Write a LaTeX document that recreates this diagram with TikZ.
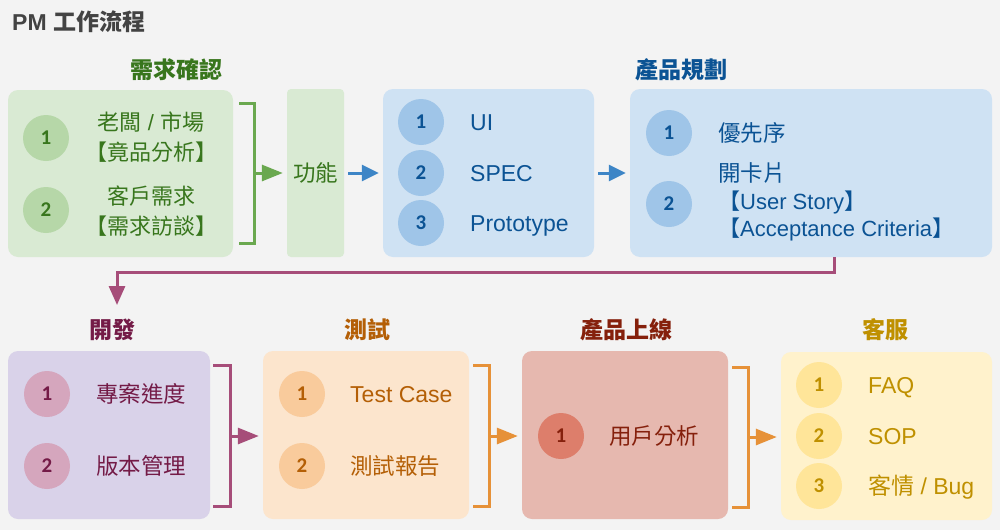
\documentclass[tikz,border=0pt]{standalone}
\usepackage{fontspec}
\setmainfont{Liberation Sans}
\newfontfamily\cjk{Noto Sans CJK TC}
\newfontfamily\numfont{Carlito}[BoldFont={* Bold}]
\usetikzlibrary{arrows.meta,calc}
\definecolor{bg}{HTML}{F3F3F3}
\definecolor{titlec}{HTML}{434343}
\definecolor{gtxt}{HTML}{38761D}\definecolor{gcir}{HTML}{B6D7A8}\definecolor{gbox}{HTML}{D9EAD3}\definecolor{gline}{HTML}{6AA84F}
\definecolor{btxt}{HTML}{0B5394}\definecolor{bcir}{HTML}{9FC5E8}\definecolor{bbox}{HTML}{CFE2F3}\definecolor{bline}{HTML}{3D85C6}
\definecolor{ptxt}{HTML}{741B47}\definecolor{pcir}{HTML}{D5A6BD}\definecolor{pbox}{HTML}{D9D2E9}\definecolor{pline}{HTML}{A64D79}
\definecolor{otxt}{HTML}{B45F06}\definecolor{ocir}{HTML}{F9CB9C}\definecolor{obox}{HTML}{FCE5CD}\definecolor{oline}{HTML}{E69138}
\definecolor{rtxt}{HTML}{85200C}\definecolor{rcir}{HTML}{DD7E6B}\definecolor{rbox}{HTML}{E6B8AF}
\definecolor{ytxt}{HTML}{BF9000}\definecolor{ycir}{HTML}{FFE599}\definecolor{ybox}{HTML}{FFF2CC}
\begin{document}
\begin{tikzpicture}[x=1pt,y=-1pt,
  panel/.style={rounded corners=10pt, inner sep=0pt, draw=none},
  num/.style={circle, minimum size=46pt, inner sep=0pt, font=\numfont\bfseries\fontsize{21}{24}\selectfont},
  item/.style={anchor=west, inner sep=0pt, text height=20pt, text depth=4pt, font=\fontsize{23}{27}\selectfont},
  citem/.style={item, font=\cjk\fontsize{22.5}{27}\selectfont},
  head/.style={inner sep=0pt, font=\cjk\bfseries\fontsize{23}{27}\selectfont},
  brk/.style={line width=3pt},
  arr/.style={line width=3pt, -{Triangle[length=21pt,width=16pt]}, shorten >=4pt},
  barr/.style={line width=3pt, bline, -{Triangle[length=17pt,width=16pt]}, shorten <=4pt, shorten >=4pt}
]
\fill[bg] (0,0) rectangle (1000,530);
\useasboundingbox (0,0) rectangle (1000,530);

\node[anchor=west, inner sep=0pt, text=titlec, font=\bfseries\fontsize{23}{27}\selectfont] (title) at (12,22) {PM {\cjk 工作流程}};

% ---------- row 1 ----------
\node[head, text=gtxt] (h1) at (176,70) {需求確認};
\node[panel, fill=gbox, minimum width=225pt, minimum height=167pt] (req) at (120.5,173.5) {};
\node[num, fill=gcir, text=gtxt] (r1) at (46,138) {1};
\node[num, fill=gcir, text=gtxt] (r2) at (46,210) {2};
\node[inner sep=0pt, align=center, text=gtxt, font=\fontsize{22}{29.5}\selectfont] (rt1) at (151,137) {{\cjk 老闆} / {\cjk 市場}\\{\cjk 【竟品分析】}};
\node[inner sep=0pt, align=center, text=gtxt, font=\cjk\fontsize{22}{29.5}\selectfont] (rt2) at (151,211) {客戶需求\\【需求訪談】};

\draw[brk, gline] (239,103) -- (254,103) -- (254,243) -- (239,243);
\coordinate (gmid) at (254,173);

\node[rounded corners=4pt, fill=gbox, minimum width=57pt, minimum height=168pt, inner sep=0pt] (func) at (315.5,173) {};
\node[inner sep=0pt, text=gtxt, font=\cjk\fontsize{22.5}{27}\selectfont] (funct) at (func) {功能};
\draw[arr, gline] (gmid) -- (gmid -| func.west);

\node[panel, fill=bbox, minimum width=211pt, minimum height=168pt] (des) at (488.5,173) {};
\node[num, fill=bcir, text=btxt] (d1) at (421,122) {1};
\node[num, fill=bcir, text=btxt] (d2) at (421,173) {2};
\node[num, fill=bcir, text=btxt] (d3) at (421,223) {3};
\node[item, text=btxt] (dt1) at (470,122) {UI};
\node[item, text=btxt] (dt2) at (470,173) {SPEC};
\node[item, text=btxt] (dt3) at (470,223) {Prototype};
\draw[barr] (func.east) -- (des.west);

\node[head, text=btxt] (h2) at (681,70) {產品規劃};
\node[panel, fill=bbox, minimum width=362pt, minimum height=168pt] (plan) at (811,173) {};
\node[num, fill=bcir, text=btxt] (p1) at (669,133) {1};
\node[num, fill=bcir, text=btxt] (p2) at (669,204) {2};
\node[citem, text=btxt] (pt1) at (718,133) {優先序};
\node[citem, text=btxt] (pt2) at (718,173) {開卡片};
\node[item, text=btxt, font=\fontsize{22}{26}\selectfont] (pt3) at (718,201) {{\cjk 【}User Story{\cjk 】}};
\node[item, text=btxt, font=\fontsize{22}{26}\selectfont] (pt4) at (718,228) {{\cjk 【}Acceptance Criteria{\cjk 】}};
\draw[barr] (des.east) -- (plan.west);

% connector down to row 2
\coordinate (pdown) at (117,305);
\draw[line width=3pt, pline, -{Triangle[length=19pt,width=16pt]}] ([xshift=23pt]plan.south) -- ++(0,15) -| (pdown);

% ---------- row 2 ----------
\node[head, text=ptxt] (h3) at (112,330) {開發};
\node[panel, fill=pbox, minimum width=202pt, minimum height=168pt] (dev) at (109,435) {};
\node[num, fill=pcir, text=ptxt] (v1) at (47,394) {1};
\node[num, fill=pcir, text=ptxt] (v2) at (47,466) {2};
\node[citem, text=ptxt] (vt1) at (96,394) {專案進度};
\node[citem, text=ptxt] (vt2) at (96,466) {版本管理};
\draw[brk, pline] (213,365) -- (230,365) -- (230,506) -- (213,506);
\coordinate (pmid) at (230,436);

\node[head, text=otxt] (h4) at (367,330) {測試};
\node[panel, fill=obox, minimum width=206pt, minimum height=168pt] (test) at (366,435) {};
\node[num, fill=ocir, text=otxt] (t1) at (302,394) {1};
\node[num, fill=ocir, text=otxt] (t2) at (302,466) {2};
\node[item, text=otxt] (tt1) at (350,394) {Test Case};
\node[citem, text=otxt] (tt2) at (350,466) {測試報告};
\draw[arr, pline] (pmid) -- (pmid -| test.west);
\draw[brk, oline] (473,365) -- (489,365) -- (489,506) -- (473,506);
\coordinate (omid) at (489,436);

\node[head, text=rtxt] (h5) at (626,330) {產品上線};
\node[panel, fill=rbox, minimum width=206pt, minimum height=168pt] (launch) at (625,435) {};
\node[num, fill=rcir, text=rtxt] (l1) at (561,436) {1};
\node[citem, text=rtxt] (lt1) at (609,436) {用戶分析};
\draw[arr, oline] (omid) -- (omid -| launch.west);
\draw[brk, oline] (732,367) -- (748,367) -- (748,507) -- (732,507);
\coordinate (o2mid) at (748,437);

\node[head, text=ytxt] (h6) at (885,330) {客服};
\node[panel, fill=ybox, minimum width=211pt, minimum height=168pt] (cs) at (886.5,436) {};
\node[num, fill=ycir, text=ytxt] (c1) at (819,385) {1};
\node[num, fill=ycir, text=ytxt] (c2) at (819,436) {2};
\node[num, fill=ycir, text=ytxt] (c3) at (819,486) {3};
\node[item, text=ytxt] (ct1) at (868,385) {FAQ};
\node[item, text=ytxt] (ct2) at (868,436) {SOP};
\node[item, text=ytxt] (ct3) at (868,486) {{\cjk 客情} / Bug};
\draw[arr, oline] (o2mid) -- (o2mid -| cs.west);
\end{tikzpicture}
\end{document}
